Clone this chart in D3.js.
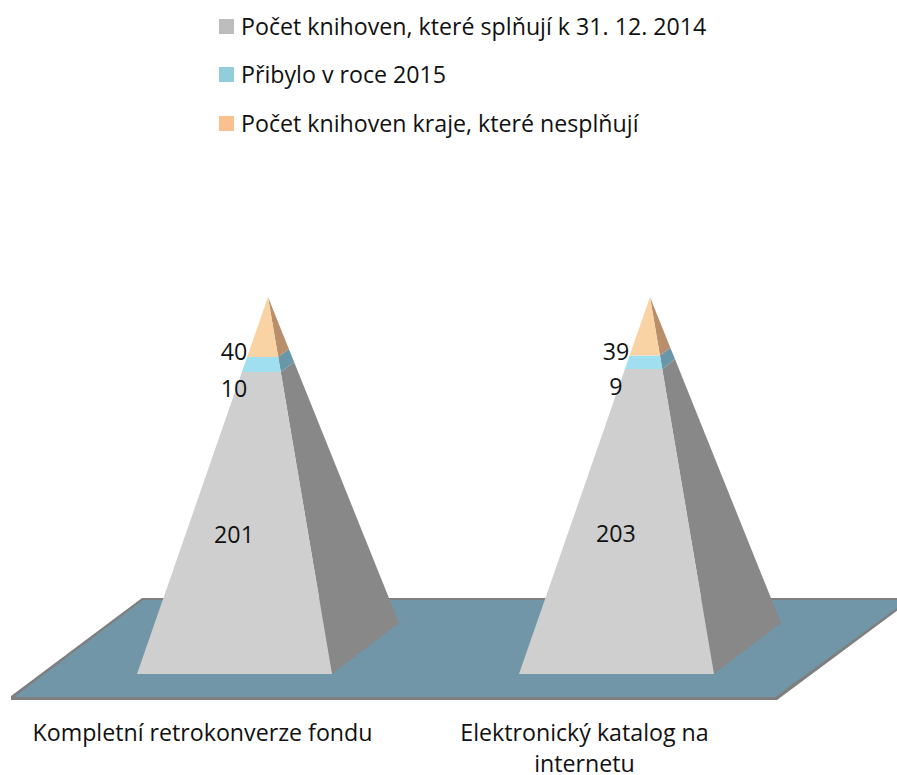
<!DOCTYPE html>
<html>
<head>
<meta charset="utf-8">
<style>
	html, body { margin: 0; padding: 0; background: #fff; }
	svg { display: block; }
	text { font-family: "Open Sans", sans-serif; fill: #111; }
</style>
<script src="https://cdn.jsdelivr.net/npm/d3@7"></script>
</head>
<body>
<div id="chart"></div>
<script>
// chart data
const categories = ["Kompletní retrokonverze fondu", "Elektronický katalog na internetu"];
const categoryLines = [["Kompletní retrokonverze fondu"], ["Elektronický katalog na", "internetu"]];
const seriesNames = ["Počet knihoven, které splňují k 31. 12. 2014", "Přibylo v roce 2015", "Počet knihoven kraje, které nesplňují"];
const splnuji = [201, 203];
const pribylo = [10, 9];
const nesplnuji = [40, 39];

// colours per series
const legendColors = ["#bdbdbd", "#92cddc", "#fac08f"];
const frontColors = ["#cfcfcf", "#a0dfef", "#f9d3a4"];
const sideColors = ["#888888", "#6a97a8", "#b88f6a"];

const width = 897;
const height = 775;
const fontSize = 23.2;

// scales: total of 251 fills the whole height of a pyramid
const x = d3.scaleBand().domain(categories).range([137, 714]).paddingInner(0.4895);
const y = d3.scaleLinear().domain([0, 251]).range([674, 297]);

// depth of the 3d pyramid and apex position relative to the left base corner
const depth = { x: 67, y: -51 };
const apexOffset = 131;

// data labels sit below the centre of their band, as in the original
const labelShift = [12, 24, 25];

const svg = d3.select("#chart").append("svg")
	.attr("width", width)
	.attr("height", height);

// legend
const legend = svg.append("g").selectAll("g")
	.data(seriesNames)
	.join("g")
	.attr("transform", (d, i) => "translate(219," + [19, 67, 116][i] + ")");

legend.append("rect")
	.attr("width", 15)
	.attr("height", 15)
	.attr("fill", (d, i) => legendColors[i]);

legend.append("text")
	.attr("x", 22)
	.attr("y", 8)
	.attr("dy", "0.36em")
	.style("font-size", fontSize + "px")
	.text(d => d);

// floor
const line = d3.line();
svg.append("path")
	.attr("d", line([[11, 700], [777, 700], [910, 601], [910, 598], [142, 598], [11, 696]]) + "Z")
	.attr("fill", "#7f7f7f");
svg.append("path")
	.attr("d", line([[14, 697], [775, 697], [908, 600], [143, 600]]) + "Z")
	.attr("fill", "#7096a8");

// stacked values
const rows = categories.map((c, i) => ({ category: c, a: splnuji[i], b: pribylo[i], c: nesplnuji[i] }));
const stack = d3.stack().keys(["a", "b", "c"])(rows);

// point on the pyramid at a given stacked value
function corners(category, value) {
	const left = x(category);
	const right = left + x.bandwidth();
	const apexX = left + apexOffset;
	const t = value / 251;
	return {
		left: [left + (apexX - left) * t, y(value)],
		right: [right + (apexX - right) * t, y(value)],
		back: [right + depth.x + (apexX - right - depth.x) * t, y(0) + depth.y + (y(251) - y(0) - depth.y) * t]
	};
}

// pyramids, bottom band first
const bands = svg.append("g").selectAll("g")
	.data(stack)
	.join("g");

bands.each(function(s, si) {
	const g = d3.select(this);
	s.forEach(d => {
		const lo = corners(d.data.category, d[0]);
		const hi = corners(d.data.category, d[1]);
		g.append("path")
			.attr("d", line([lo.right, lo.back, hi.back, hi.right]) + "Z")
			.attr("fill", sideColors[si]);
		g.append("path")
			.attr("d", line([lo.left, lo.right, hi.right, hi.left]) + "Z")
			.attr("fill", frontColors[si]);
	});
});

// data labels
bands.selectAll("text")
	.data((s, si) => s.map(d => ({ d: d, si: si })))
	.join("text")
	.attr("x", o => x(o.d.data.category) + x.bandwidth() / 2 - 0.5)
	.attr("y", o => y((o.d[0] + o.d[1]) / 2) + labelShift[o.si])
	.attr("dy", "0.36em")
	.attr("text-anchor", "middle")
	.style("font-size", fontSize + "px")
	.text(o => o.d[1] - o.d[0]);

// category labels
const catLabels = svg.append("g").selectAll("text")
	.data(categories)
	.join("text")
	.attr("text-anchor", "middle")
	.style("font-size", fontSize + "px");

catLabels.selectAll("tspan")
	.data((d, i) => categoryLines[i].map(t => ({ text: t, category: d })))
	.join("tspan")
	.attr("x", d => x(d.category) + x.bandwidth() / 2 - 32)
	.attr("y", (d, i) => 741 + i * 31)
	.text(d => d.text);
</script>
</body>
</html>
